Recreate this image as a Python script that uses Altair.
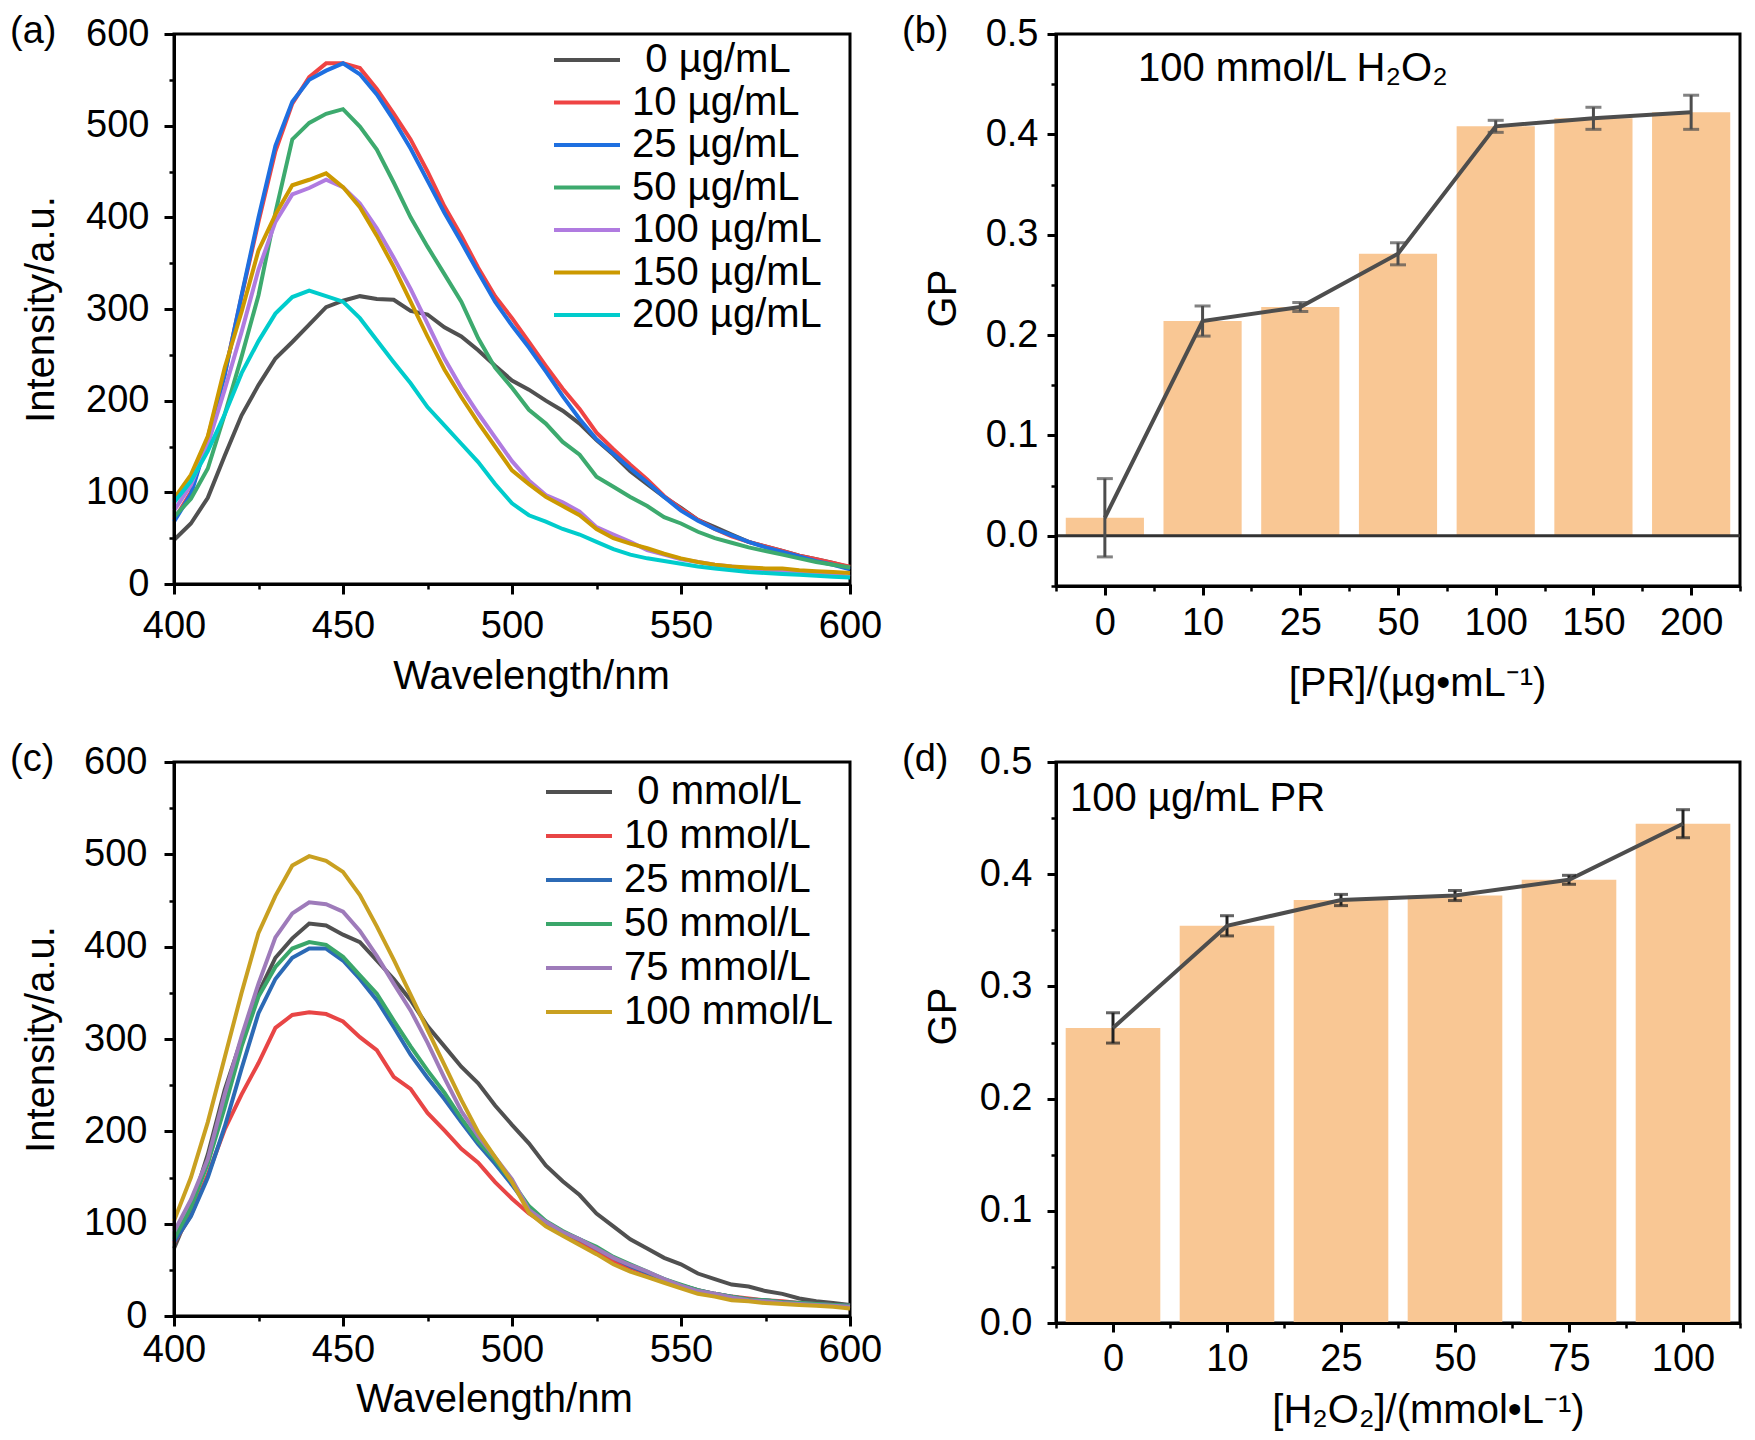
import altair as alt
import pandas as pd

FONT = "Liberation Sans"
BAR = "#F9C794"
DARK = "#4D4D4D"
INDENT = "\u200b\u2004"

WAVELENGTH = list(range(400, 605, 5))

# (a) emission spectra, PR series
A_NAMES = [INDENT + "0 µg/mL", "10 µg/mL", "25 µg/mL", "50 µg/mL", "100 µg/mL", "150 µg/mL", "200 µg/mL"]
A_COLORS = ["#505050", "#EF4444", "#1E6FE0", "#3DAA6E", "#B07BE0", "#CC9900", "#00CCCC"]
A_0 = [48, 66, 94, 140, 184, 217, 246, 264, 283, 302, 309, 314, 311, 310, 298, 294, 280, 270, 255, 238,
       222, 212, 200, 189, 175, 157, 141, 123, 109, 95, 83, 70, 62, 54, 46, 41, 36, 31, 27, 23, 18]
A_10 = [70, 100, 160, 229, 314, 395, 472, 524, 553, 568, 568, 563, 540, 513, 485, 450, 412, 380, 345, 314,
        290, 264, 238, 213, 191, 165, 147, 130, 114, 96, 82, 70, 60, 52, 46, 41, 36, 31, 27, 23, 19]
A_25 = [68, 98, 158, 228, 315, 400, 478, 526, 550, 560, 568, 556, 534, 506, 475, 440, 405, 373, 340, 308,
        282, 258, 232, 205, 180, 158, 142, 126, 111, 95, 80, 69, 60, 53, 46, 40, 35, 30, 25, 21, 16]
A_50 = [73, 93, 126, 185, 248, 315, 405, 485, 503, 513, 518, 499, 474, 438, 400, 368, 338, 308, 268, 236,
        214, 190, 175, 155, 141, 117, 106, 95, 85, 73, 66, 57, 50, 45, 40, 36, 32, 28, 24, 21, 18]
A_100 = [80, 108, 152, 212, 275, 343, 395, 425, 432, 441, 433, 415, 388, 356, 322, 284, 246, 214, 186, 160,
         134, 113, 97, 89, 79, 62, 54, 46, 37, 32, 27, 24, 21, 19, 17, 15, 14, 13, 11, 10, 8]
A_150 = [93, 119, 161, 236, 297, 364, 403, 435, 441, 448, 433, 411, 380, 346, 308, 270, 234, 204, 176, 150,
         124, 109, 95, 85, 75, 60, 50, 44, 39, 33, 28, 24, 21, 19, 18, 17, 17, 15, 14, 13, 12]
A_200 = [89, 112, 145, 185, 230, 265, 295, 313, 320, 314, 308, 290, 266, 242, 219, 193, 173, 153, 133, 109,
         88, 75, 68, 60, 54, 46, 38, 32, 28, 25, 22, 19, 17, 15, 13, 12, 11, 10, 9, 8, 7]

# (c) emission spectra, H2O2 series
C_NAMES = [INDENT + "0 mmol/L", "10 mmol/L", "25 mmol/L", "50 mmol/L", "75 mmol/L", "100 mmol/L"]
C_COLORS = ["#505050", "#E84545", "#2C6AB5", "#3AA66A", "#9E7BBA", "#C9A021"]
C_0 = [73, 117, 175, 245, 300, 350, 388, 409, 425, 423, 413, 405, 385, 365, 342, 314, 292, 270, 252, 228,
       207, 187, 163, 146, 131, 111, 97, 83, 73, 63, 56, 46, 40, 34, 32, 27, 24, 19, 16, 14, 12]
C_10 = [79, 109, 153, 202, 240, 274, 312, 326, 329, 327, 319, 302, 288, 259, 246, 220, 201, 181, 166, 145,
        127, 111, 99, 88, 79, 71, 60, 52, 46, 39, 33, 28, 24, 21, 19, 17, 16, 14, 13, 12, 11]
C_25 = [80, 108, 150, 205, 268, 328, 365, 388, 398, 398, 385, 365, 342, 313, 283, 258, 235, 210, 186, 165,
        142, 117, 102, 91, 83, 73, 63, 54, 47, 40, 33, 28, 24, 21, 18, 17, 15, 14, 13, 12, 11]
C_50 = [83, 118, 165, 226, 292, 346, 378, 398, 405, 402, 389, 369, 349, 320, 292, 266, 242, 214, 189, 169,
        145, 119, 103, 92, 83, 75, 64, 56, 48, 40, 34, 28, 24, 21, 18, 17, 15, 14, 13, 12, 11]
C_75 = [91, 126, 170, 240, 303, 360, 410, 436, 448, 446, 438, 417, 390, 360, 331, 296, 258, 222, 195, 172,
        148, 115, 102, 91, 83, 73, 63, 55, 48, 40, 33, 27, 24, 20, 17, 16, 14, 13, 12, 11, 10]
C_100 = [103, 150, 210, 280, 350, 415, 455, 488, 498, 493, 481, 456, 422, 386, 348, 310, 272, 234, 199, 172,
         145, 112, 97, 87, 77, 67, 56, 48, 42, 36, 30, 24, 21, 17, 16, 14, 13, 12, 11, 10, 8]

# (b) GP vs PR
B_LABELS = ["0", "10", "25", "50", "100", "150", "200"]
B_GP = [0.018, 0.214, 0.228, 0.281, 0.408, 0.416, 0.422]
B_ERR = [0.039, 0.015, 0.0045, 0.011, 0.006, 0.011, 0.017]

# (d) GP vs H2O2
D_LABELS = ["0", "10", "25", "50", "75", "100"]
D_GP = [0.263, 0.354, 0.377, 0.381, 0.395, 0.445]
D_ERR = [0.0135, 0.009, 0.005, 0.0045, 0.004, 0.0125]


def long_table(names, series):
    rows = []
    for name, values in zip(names, series):
        for wl, v in zip(WAVELENGTH, values):
            rows.append({"wl": wl, "intensity": v, "series": name})
    return pd.DataFrame(rows)


def text_layer(text, x, y, size, baseline):
    return alt.Chart(pd.DataFrame({"t": [text]})).mark_text(
        font=FONT, fontSize=size, align="left", baseline=baseline, color="black"
    ).encode(x=alt.value(x), y=alt.value(y), text="t:N")


def spectrum(df, names, colors, w, h, letter, leg_x, leg_y, leg_pad, xlab_pad, xtitle_x, xtitle_y, ylab_pad):
    xs = alt.Scale(domain=[400, 600], nice=False, zero=False)
    ys = alt.Scale(domain=[0, 600], nice=False)
    lines = alt.Chart(df).mark_line(strokeWidth=4).encode(
        x=alt.X("wl:Q", scale=xs, axis=alt.Axis(
            orient="bottom", values=[400, 450, 500, 550, 600], title="Wavelength/nm",
            tickSize=10, labelPadding=xlab_pad, labelFlush=False, zindex=1,
            titleX=xtitle_x, titleY=xtitle_y, titleBaseline="middle")),
        y=alt.Y("intensity:Q", scale=ys, axis=alt.Axis(
            orient="left", values=[0, 100, 200, 300, 400, 500, 600], title="Intensity/a.u.",
            tickSize=10, labelPadding=ylab_pad, zindex=1, titleX=-133, titleBaseline="middle")),
        color=alt.Color("series:N", scale=alt.Scale(domain=names, range=colors), legend=alt.Legend(
            title=None, orient="none", legendX=leg_x, legendY=leg_y, symbolType="M-3,0H3",
            symbolSize=484, symbolStrokeWidth=4, labelOffset=25, rowPadding=leg_pad,
            labelLimit=400)),
    )
    minor = alt.Chart(df).mark_point(opacity=0).encode(
        x=alt.X("wl:Q", scale=xs, axis=alt.Axis(
            orient="bottom", values=[425, 475, 525, 575], labels=False, domain=False,
            title=None, tickSize=5, tickWidth=2.5)),
        y=alt.Y("intensity:Q", scale=ys, axis=alt.Axis(
            orient="left", values=[50, 150, 250, 350, 450, 550], labels=False, domain=False,
            title=None, tickSize=5, tickWidth=2.5)),
    )
    return alt.layer(minor, lines, text_layer(letter, -164, -21, 38, "top")).resolve_axis(
        x="independent", y="independent").properties(width=w, height=h)


def gp_panel(labels, means, errs, half, w, h, ydom, ymajor, yminor, letter, note, note_x, note_y,
             xtitle, xlab_pad, xtitle_x, xtitle_y, ylab_pad, ytitle_x, ytitle_y, cap, err_color, zero_line):
    n = len(labels)
    df = pd.DataFrame({"idx": list(range(n)), "gp": means, "err": errs})
    xs = alt.Scale(domain=[-0.5, n - 0.5], nice=False, zero=False)
    ys = alt.Scale(domain=ydom, nice=False, zero=False)
    label_expr = "[" + ",".join(f"'{t}'" for t in labels) + "][datum.value]"
    base = alt.Chart(df).transform_calculate(
        left=f"datum.idx - {half}", right=f"datum.idx + {half}",
        low="datum.gp - datum.err", high="datum.gp + datum.err")

    bars = base.mark_bar(color=BAR).encode(
        x=alt.X("left:Q", scale=xs, axis=alt.Axis(
            orient="bottom", values=list(range(n)), labelExpr=label_expr, title=xtitle,
            tickSize=9, labelPadding=xlab_pad, labelFlush=False, zindex=1,
            titleX=xtitle_x, titleY=xtitle_y, titleBaseline="middle")),
        x2="right:Q",
        y=alt.Y("gp:Q", scale=ys, axis=alt.Axis(
            orient="left", values=ymajor, format=".1f", title="GP", tickSize=9,
            labelPadding=ylab_pad, zindex=1, titleX=ytitle_x, titleY=ytitle_y, titleBaseline="middle")),
        y2=alt.datum(0),
    )
    minor = base.mark_point(opacity=0).encode(
        x=alt.X("idx:Q", scale=xs, axis=alt.Axis(
            orient="bottom", values=[i - 0.5 for i in range(n + 1)], labels=False, domain=False,
            title=None, tickSize=5, tickWidth=2.5)),
        y=alt.Y("gp:Q", scale=ys, axis=alt.Axis(
            orient="left", values=yminor, labels=False, domain=False,
            title=None, tickSize=5, tickWidth=2.5)),
    )
    rules = base.mark_rule(color=err_color, strokeWidth=3).encode(
        x=alt.X("idx:Q", axis=None), y=alt.Y("low:Q", axis=None), y2="high:Q")
    cap_hi = base.mark_tick(color=err_color, orient="horizontal", size=cap, thickness=3).encode(
        x=alt.X("idx:Q", axis=None), y=alt.Y("high:Q", axis=None))
    cap_lo = base.mark_tick(color=err_color, orient="horizontal", size=cap, thickness=3).encode(
        x=alt.X("idx:Q", axis=None), y=alt.Y("low:Q", axis=None))
    line = base.mark_line(color=DARK, strokeWidth=4).encode(
        x=alt.X("idx:Q", axis=None), y=alt.Y("gp:Q", axis=None))

    layers = [minor, bars]
    if zero_line:
        layers.append(alt.Chart(pd.DataFrame({"z": [0.0]})).mark_rule(
            color="#333333", strokeWidth=3).encode(y=alt.Y("z:Q", axis=None)))
    layers += [rules, line, cap_hi, cap_lo,
               text_layer(note, note_x, note_y, 40, "alphabetic"),
               text_layer(letter, -154, -21, 38, "top")]
    return alt.layer(*layers).resolve_axis(
        x="independent", y="independent").properties(width=w, height=h)


panel_a = spectrum(long_table(A_NAMES, [A_0, A_10, A_25, A_50, A_100, A_150, A_200]),
                   A_NAMES, A_COLORS, 676, 550, "(a)", 393, 6, 2.5, 13, 357, 92, 15)
panel_c = spectrum(long_table(C_NAMES, [C_0, C_10, C_25, C_50, C_75, C_100]),
                   C_NAMES, C_COLORS, 676, 554, "(c)", 385, 10, 4, 5, 320, 83, 17)
panel_b = gp_panel(B_LABELS, B_GP, B_ERR, 0.4, 684, 552, [-0.05, 0.5],
                   [0.0, 0.1, 0.2, 0.3, 0.4, 0.5], [-0.05, 0.05, 0.15, 0.25, 0.35, 0.45],
                   "(b)", "100 mmol/L H₂O₂", 82, 47, "[PR]/(µg•mL⁻¹)", 9, 361, 97, 9, -113, 264,
                   16, DARK, True)
panel_d = gp_panel(D_LABELS, D_GP, D_ERR, 0.415, 684, 561, [0.0, 0.5],
                   [0.0, 0.1, 0.2, 0.3, 0.4, 0.5], [0.05, 0.15, 0.25, 0.35, 0.45],
                   "(d)", "100 µg/mL PR", 14, 49, "[H₂O₂]/(mmol•L⁻¹)", 8, 372, 87, 15, -113, 254,
                   14, "#222222", False)

chart = alt.concat(
    panel_a, panel_b, panel_c, panel_d,
    columns=2, spacing={"row": 176, "column": 206}, bounds="flush",
    padding={"left": 0, "top": 3, "right": 0, "bottom": 0},
).resolve_scale(color="independent").configure(font=FONT).configure_axis(
    labelFont=FONT, titleFont=FONT, labelFontSize=38, titleFontSize=40,
    labelColor="black", titleColor="black", tickColor="black", domainColor="black",
    tickWidth=3, domainWidth=3, grid=False, titleFontWeight="normal", labelOverlap=False,
).configure_view(stroke="black", strokeWidth=3).configure_legend(
    labelFont=FONT, labelFontSize=40, labelColor="black", padding=0,
)

chart.save("out.html", embed_options={"renderer": "svg", "actions": False})
